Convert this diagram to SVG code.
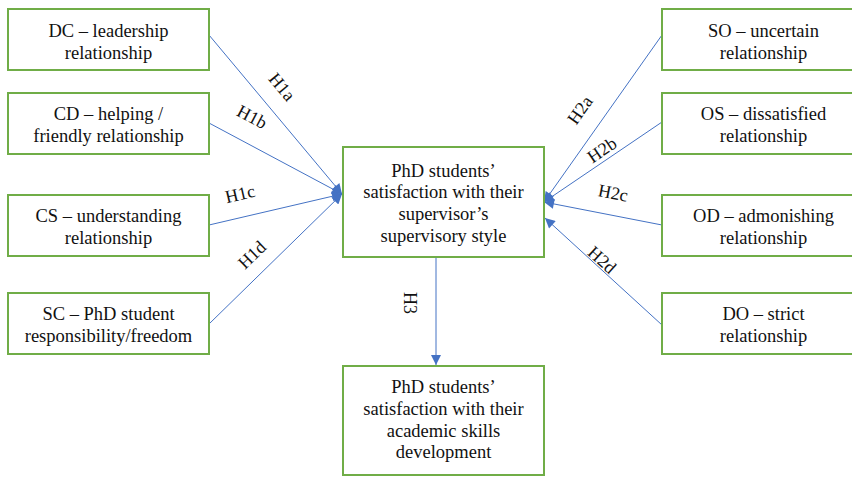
<svg xmlns="http://www.w3.org/2000/svg" width="852" height="477" viewBox="0 0 852 477">
<defs>
<style>
.box{fill:#fff;stroke:#70AD47;stroke-width:2}
.t{font-family:"Liberation Serif","Times New Roman",serif;font-size:18.5px;fill:#111;text-anchor:middle}
.lbl{font-family:"Liberation Serif","Times New Roman",serif;font-size:18px;fill:#111;text-anchor:middle;dominant-baseline:central}
.c{stroke:#4472C4;stroke-width:1;fill:none;marker-end:url(#ah)}
</style>
<marker id="ah" viewBox="0 0 10 10" refX="10" refY="5" markerWidth="11" markerHeight="10" markerUnits="userSpaceOnUse" orient="auto">
<path d="M0,0 L10,5 L0,10 Z" fill="#4472C4"/>
</marker>
</defs>
<rect width="852" height="477" fill="#fff"/>
<g id="connectors">
<line class="c" x1="209" y1="35" x2="342" y2="194"/>
<line class="c" x1="209" y1="123" x2="342" y2="194"/>
<line class="c" x1="209" y1="225" x2="342" y2="194"/>
<line class="c" x1="209" y1="324" x2="342" y2="194"/>
<line class="c" x1="662" y1="35" x2="544" y2="202"/>
<line class="c" x1="662" y1="122" x2="544" y2="202"/>
<line class="c" x1="662" y1="225" x2="544" y2="202"/>
<line class="c" x1="662" y1="325" x2="545" y2="218"/>
<line class="c" x1="436" y1="257" x2="436" y2="365"/>
<text class="lbl" transform="translate(282,87) rotate(50)">H1a</text>
<text class="lbl" transform="translate(252,117) rotate(28)">H1b</text>
<text class="lbl" transform="translate(240,194) rotate(-13)">H1c</text>
<text class="lbl" transform="translate(252,255) rotate(-44)">H1d</text>
<text class="lbl" transform="translate(580,110) rotate(-55)">H2a</text>
<text class="lbl" transform="translate(602,150) rotate(-34)">H2b</text>
<text class="lbl" transform="translate(613,193) rotate(11)">H2c</text>
<text class="lbl" transform="translate(602,260) rotate(42)">H2d</text>
<text class="lbl" transform="translate(410,303) rotate(90)">H3</text>
</g>
<g id="dc"><rect class="box" x="8" y="9" width="201" height="61"/><text class="t" x="108.5" y="36.5">DC – leadership</text><text class="t" x="108.5" y="58.5">relationship</text></g>
<g id="cd"><rect class="box" x="8" y="93" width="201" height="61"/><text class="t" x="108.5" y="120">CD – helping /</text><text class="t" x="108.5" y="142">friendly relationship</text></g>
<g id="cs"><rect class="box" x="8" y="195" width="201" height="61"/><text class="t" x="108.5" y="222">CS – understanding</text><text class="t" x="108.5" y="244">relationship</text></g>
<g id="sc"><rect class="box" x="8" y="293" width="201" height="61"/><text class="t" x="108.5" y="320">SC – PhD student</text><text class="t" x="108.5" y="342">responsibility/freedom</text></g>
<g id="so"><rect class="box" x="662" y="9" width="203" height="61"/><text class="t" x="763.5" y="36.5">SO – uncertain</text><text class="t" x="763.5" y="58.5">relationship</text></g>
<g id="os"><rect class="box" x="662" y="93" width="203" height="61"/><text class="t" x="763.5" y="120">OS – dissatisfied</text><text class="t" x="763.5" y="142">relationship</text></g>
<g id="od"><rect class="box" x="662" y="195" width="203" height="61"/><text class="t" x="763.5" y="222">OD – admonishing</text><text class="t" x="763.5" y="244">relationship</text></g>
<g id="do"><rect class="box" x="662" y="293" width="203" height="61"/><text class="t" x="763.5" y="320">DO – strict</text><text class="t" x="763.5" y="342">relationship</text></g>
<g id="center"><rect class="box" x="343" y="147" width="201" height="110"/><text class="t" x="443.5" y="176.5">PhD students’</text><text class="t" x="443.5" y="198">satisfaction with their</text><text class="t" x="443.5" y="220">supervisor’s</text><text class="t" x="443.5" y="241.5">supervisory style</text></g>
<g id="bottom"><rect class="box" x="343" y="366" width="201" height="109"/><text class="t" x="443.5" y="392.5">PhD students’</text><text class="t" x="443.5" y="414.5">satisfaction with their</text><text class="t" x="443.5" y="436.5">academic  skills</text><text class="t" x="443.5" y="458">development</text></g>
</svg>
